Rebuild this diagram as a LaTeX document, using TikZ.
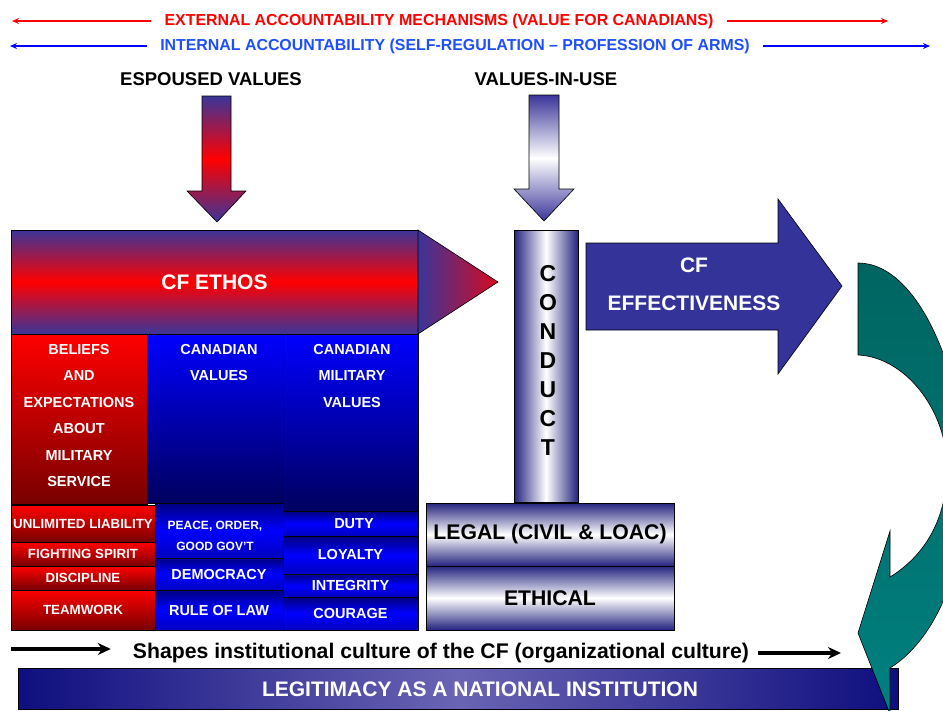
\documentclass[tikz,border=0pt]{standalone}
\usepackage{fontspec}
\setmainfont{Liberation Sans}
\usepackage{xcolor}
\usetikzlibrary{arrows.meta}
\definecolor{ethosblue}{HTML}{3A3599}
\definecolor{effblue}{HTML}{333399}
\definecolor{navy}{HTML}{000080}
\definecolor{deepnavy}{HTML}{00005E}
\definecolor{darkred}{HTML}{780000}
\definecolor{pillarblue}{HTML}{24247F}
\definecolor{hdrblue}{HTML}{1E4FFF}
\definecolor{tealdark}{HTML}{006561}
\definecolor{tealarrow}{HTML}{008080}
\definecolor{legitdark}{HTML}{0E0E7E}
\definecolor{legitmid}{HTML}{6A64B4}

\tikzset{
  hdr/.style={font=\fontsize{15.9}{18}\selectfont\bfseries, inner xsep=13pt},
  hdrline/.style={line width=1.4pt, -{Stealth[length=7pt,width=6pt]}},
  lbl/.style={font=\fontsize{18.5}{20}\selectfont\bfseries},
  fat/.style={line width=3.5pt, -{Stealth[length=13pt,width=12pt]}},
  cell/.style={draw=black, line width=0.8pt, inner sep=0pt, outer sep=0pt, text=white, align=center,
    font=\fontsize{14.5}{16}\selectfont\bfseries},
  redcell/.style={cell, top color=red, bottom color=darkred},
  bigblue/.style={cell, top color=blue, bottom color=deepnavy},
  bluecell/.style={cell, top color=navy, bottom color=blue!75!black, middle color=blue},
  celltxt/.style={text=white, align=center, inner sep=0pt, font=\fontsize{14.5}{26.5}\selectfont\bfseries},
  silver/.style={draw=black, line width=0.8pt, inner sep=0pt, outer sep=0pt, align=center,
    font=\fontsize{21.2}{24}\selectfont\bfseries},
  bigtxt/.style={text=white, align=center, font=\fontsize{21}{38}\selectfont\bfseries},
}

\begin{document}
\begin{tikzpicture}[x=1pt, y=-1pt]
\useasboundingbox (0,0) rectangle (943,710);
\clip (0,0) rectangle (943,710);

% accountability banners
\node[hdr, text=red] (ext) at (439,21) {EXTERNAL ACCOUNTABILITY MECHANISMS (VALUE FOR CANADIANS)};
\coordinate (extL) at (12,21);
\coordinate (extR) at (888,21);
\draw[hdrline, red] (ext.west) -- (extL);
\draw[hdrline, red] (ext.east) -- (extR);

\node[hdr, text=hdrblue] (int) at (455,46) {INTERNAL ACCOUNTABILITY (SELF-REGULATION -- PROFESSION OF ARMS)};
\coordinate (intL) at (10,46);
\coordinate (intR) at (930,46);
\draw[hdrline, blue] (int.west) -- (intL);
\draw[hdrline, blue] (int.east) -- (intR);

\node[lbl] (espoused) at (211,79) {ESPOUSED VALUES};
\node[lbl] (inuse) at (546,79) {VALUES-IN-USE};

% the two down arrows
\shadedraw[top color=ethosblue, bottom color=ethosblue, middle color=red, line width=0.6pt]
  (202,96) -- (231,96) -- (231,191) -- (246,191) -- (217,222) -- (187,191) -- (202,191) -- cycle;
\shadedraw[top color=ethosblue, bottom color=ethosblue, middle color=white, line width=0.6pt]
  (529,95) -- (559,95) -- (559,189) -- (574,189) -- (544,221) -- (514,189) -- (529,189) -- cycle;

% CF ethos arrow
\node[cell, top color=ethosblue, bottom color=ethosblue, middle color=red,
  minimum width=407pt, minimum height=104pt, font=\fontsize{21}{24}\selectfont\bfseries] (ethos) at (214.5,282) {CF ETHOS};
\shadedraw[left color=ethosblue, right color=red!80!ethosblue, line width=0.6pt]
  (ethos.north east) -- (498,282) -- (ethos.south east) -- cycle;

% three columns
\node[redcell, minimum width=136pt, minimum height=170pt] (beliefs) at (79,419) {};
\node[bigblue, minimum width=136pt, minimum height=169pt] (canval) at (215,418.5) {};
\node[bigblue, minimum width=135pt, minimum height=177pt] (milval) at (350.5,422.5) {};
\node[celltxt, anchor=north] (beliefsTxt) at (79,344) {BELIEFS\\AND\\EXPECTATIONS\\ABOUT\\MILITARY\\SERVICE};
\node[celltxt, anchor=north] (canvalTxt) at (219,344) {CANADIAN\\VALUES};
\node[celltxt, anchor=north] (milvalTxt) at (352,344) {CANADIAN\\MILITARY\\VALUES};

\node[redcell, minimum width=144pt, minimum height=37pt, font=\fontsize{13.3}{16}\selectfont\bfseries] (unlim) at (83,523.5) {UNLIMITED LIABILITY};
\node[redcell, minimum width=144pt, minimum height=24pt, font=\fontsize{13.3}{16}\selectfont\bfseries] (fight) at (83,554) {FIGHTING SPIRIT};
\node[redcell, minimum width=144pt, minimum height=24pt, font=\fontsize{13.3}{16}\selectfont\bfseries] (discip) at (83,578) {DISCIPLINE};
\node[redcell, minimum width=144pt, minimum height=40pt, font=\fontsize{13.3}{16}\selectfont\bfseries] (team) at (83,610) {TEAMWORK};

\node[bluecell, minimum width=128pt, minimum height=55pt] (peace) at (219,530.5) {};
\node[text=white, align=center, inner sep=0pt, font=\fontsize{12}{21.3}\selectfont\bfseries] (peaceTxt) at (215,536) {PEACE, ORDER,\\GOOD GOV’T};
\node[bluecell, minimum width=128pt, minimum height=32pt] (democ) at (219,574) {\raisebox{-3pt}{DEMOCRACY}};
\node[bluecell, minimum width=128pt, minimum height=40pt] (rule) at (219,610) {\raisebox{-2pt}{RULE OF LAW}};

\node[bluecell, minimum width=135pt, minimum height=25pt] (duty) at (350.5,523.5) {\hspace{7pt}DUTY};
\node[bluecell, minimum width=135pt, minimum height=38pt] (loyal) at (350.5,555) {\raisebox{-4pt}{LOYALTY}};
\node[bluecell, minimum width=135pt, minimum height=23pt] (integ) at (350.5,585.5) {INTEGRITY};
\node[bluecell, minimum width=135pt, minimum height=33pt] (courage) at (350.5,613.5) {COURAGE};

% conduct pillar and its base
\node[silver, left color=pillarblue, right color=pillarblue, middle color=white,
  minimum width=64pt, minimum height=272pt] (conduct) at (546,366) {};
\node[align=center, inner sep=0pt, font=\fontsize{23}{29}\selectfont\bfseries] (conductTxt) at (548,360) {C\\O\\N\\D\\U\\C\\T};
\node[silver, top color=pillarblue, bottom color=pillarblue, middle color=white,
  minimum width=248pt, minimum height=63pt] (legal) at (550,534.5) {LEGAL (CIVIL \& LOAC)};
\node[silver, top color=pillarblue, bottom color=pillarblue, middle color=white,
  minimum width=248pt, minimum height=64pt] (ethical) at (550,598) {ETHICAL};

% CF effectiveness
\filldraw[fill=effblue, line width=0.6pt]
  (586,243) -- (778,243) -- (778,199) -- (842,286) -- (778,374) -- (778,330) -- (586,330) -- cycle;
\node[bigtxt] (eff) at (694,284) {CF\\EFFECTIVENESS};

% bottom band
\node[text=black, inner sep=0pt, font=\fontsize{21.2}{24}\selectfont\bfseries] (shapes) at (441,653)
  {Shapes institutional culture of the CF (organizational culture)};
\coordinate (shapesL) at (11,649);
\coordinate (shapesR) at (841,653);
\draw[fat, shorten >=22pt] (shapesL) -- (shapesL -| shapes.west);
\draw[fat, shorten <=9pt] (shapes.east) -- (shapesR);

\node[draw=black, line width=0.8pt, inner sep=0pt, left color=legitdark, right color=legitdark, middle color=legitmid,
  minimum width=880pt, minimum height=41pt] (legit) at (458,688.5) {};
\node[text=white, font=\fontsize{21}{24}\selectfont\bfseries] (legitTxt) at (480,689) {LEGITIMACY AS A NATIONAL INSTITUTION};

% curved return arrow
\shadedraw[top color=tealdark, bottom color=tealarrow, line width=0.6pt]
  (858,263) .. controls (922,263) and (966,385) .. (966,480)
  .. controls (966,575) and (932,642) .. (890,668)
  -- (890,714) -- (858,633) -- (890,531) -- (890,577)
  .. controls (924,556) and (947,520) .. (947,468)
  .. controls (947,410) and (905,357) .. (858,355) -- cycle;
\end{tikzpicture}
\end{document}
